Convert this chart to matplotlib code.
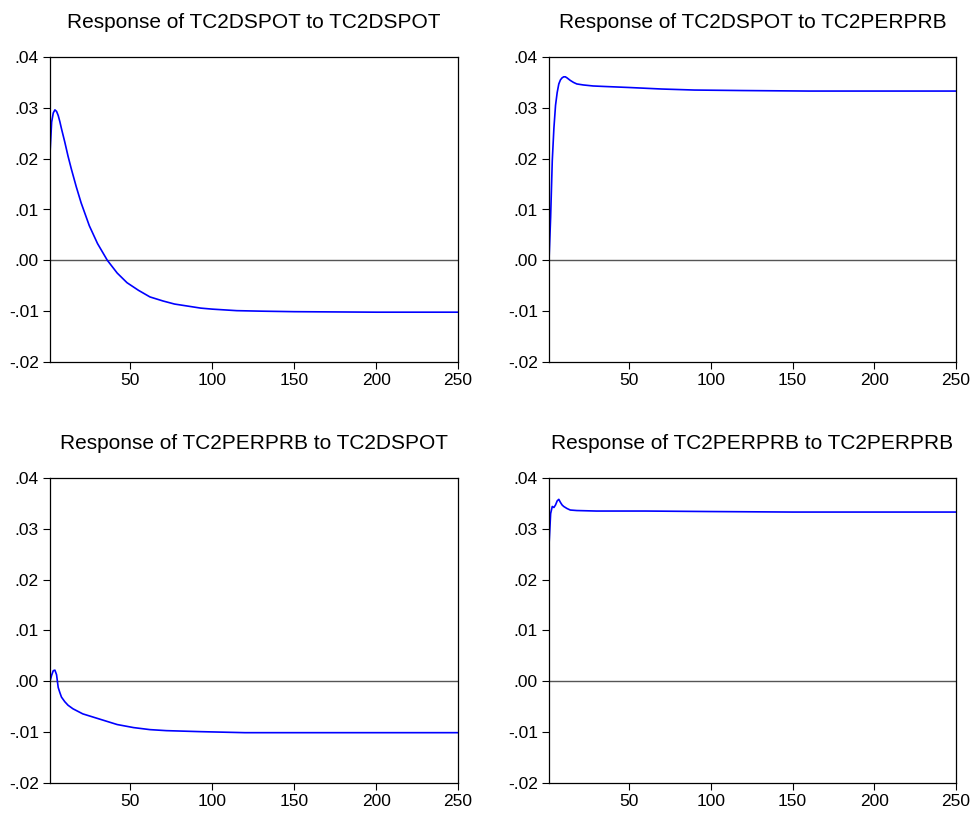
"""
インパルス応答 (EViews風 2x2) の再現
"""
import matplotlib
matplotlib.use('Agg')
import matplotlib.pyplot as plt

plt.rcParams['font.family'] = ['Liberation Sans', 'DejaVu Sans']

# ── データ (図から読み取った期間と応答値) ──────────────────
p_ss = [1, 2, 3, 4, 5, 6, 7, 8, 9, 10, 12, 14, 17, 20, 25, 30, 36, 42, 48,
        55, 62, 70, 77, 85, 93, 100, 115, 130, 150, 200, 250]
r_ss = [0.0210, 0.0272, 0.0290, 0.0296, 0.0293, 0.0285, 0.0273, 0.0259,
        0.0246, 0.0233, 0.0205, 0.0180, 0.0145, 0.0113, 0.0068, 0.0033,
        0.0000, -0.0025, -0.0044, -0.0059, -0.0072, -0.0080, -0.0086,
        -0.0090, -0.0094, -0.0096, -0.0099, -0.0100, -0.0101, -0.0102, -0.0102]

p_sp = [1, 2, 3, 4, 5, 6, 7, 8, 9, 10, 11, 12, 14, 16, 18, 22, 28, 35, 50,
        70, 90, 120, 160, 200, 250]
r_sp = [0.0000, 0.0085, 0.0196, 0.0260, 0.0305, 0.0330, 0.0347, 0.0355,
        0.0359, 0.0361, 0.0361, 0.0359, 0.0354, 0.0350, 0.0347, 0.0345,
        0.0343, 0.0342, 0.0340, 0.0337, 0.0335, 0.0334, 0.0333, 0.0333, 0.0333]

p_ps = [1, 2, 3, 4, 5, 6, 7, 8, 10, 12, 15, 21, 25, 32, 42, 52, 62, 72,
        93, 120, 150, 200, 250]
r_ps = [0.0000, 0.0012, 0.0021, 0.0022, 0.0013, -0.0012, -0.0022, -0.0031,
        -0.0040, -0.0047, -0.0054, -0.0064, -0.0068, -0.0075, -0.0085,
        -0.0091, -0.0095, -0.0097, -0.0099, -0.0101, -0.0101, -0.0101, -0.0101]

p_pp = [1, 2, 3, 4, 5, 6, 7, 8, 9, 10, 12, 14, 18, 30, 60, 100, 150, 250]
r_pp = [0.0268, 0.0330, 0.0344, 0.0342, 0.0347, 0.0355, 0.0358, 0.0352,
        0.0347, 0.0344, 0.0340, 0.0337, 0.0336, 0.0335, 0.0335, 0.0334,
        0.0333, 0.0333]

titles = ['Response of TC2DSPOT to TC2DSPOT',
          'Response of TC2DSPOT to TC2PERPRB',
          'Response of TC2PERPRB to TC2DSPOT',
          'Response of TC2PERPRB to TC2PERPRB']
y_ticks = [-0.02, -0.01, 0.00, 0.01, 0.02, 0.03, 0.04]
y_labels = ['-.02', '-.01', '.00', '.01', '.02', '.03', '.04']
x_ticks = [50, 100, 150, 200, 250]

series = [(p_ss, r_ss), (p_sp, r_sp), (p_ps, r_ps), (p_pp, r_pp)]

fig = plt.figure(figsize=(9.72, 8.13), dpi=100)
W, H = 972, 813
# 各パネルの位置 (px: 左, 上, 幅, 高さ)
boxes = [(50, 57, 408, 305), (549, 57, 407, 305),
         (50, 478, 408, 305), (549, 478, 407, 305)]

for (px, py), title, (l, t, w, h) in zip(series, titles, boxes):
    ax = fig.add_axes([l / W, 1 - (t + h) / H, w / W, h / H])
    ax.axhline(0, color='#555555', lw=1.0, zorder=1)
    ax.plot(px, py, color='#0000ff', lw=1.2, zorder=2)
    ax.set_xlim(1, 250)
    ax.set_ylim(-0.02, 0.04)
    ax.set_yticks(y_ticks)
    ax.set_yticklabels(y_labels)
    ax.set_xticks(x_ticks)
    ax.tick_params(direction='out', length=5, width=0.8, labelsize=12.5,
                   colors='black', pad=3)
    for sp in ax.spines.values():
        sp.set_linewidth(0.9)
        sp.set_color('black')
    ax.set_title(title, fontsize=15, pad=21)

plt.savefig('out.png', dpi=100)
plt.close()
